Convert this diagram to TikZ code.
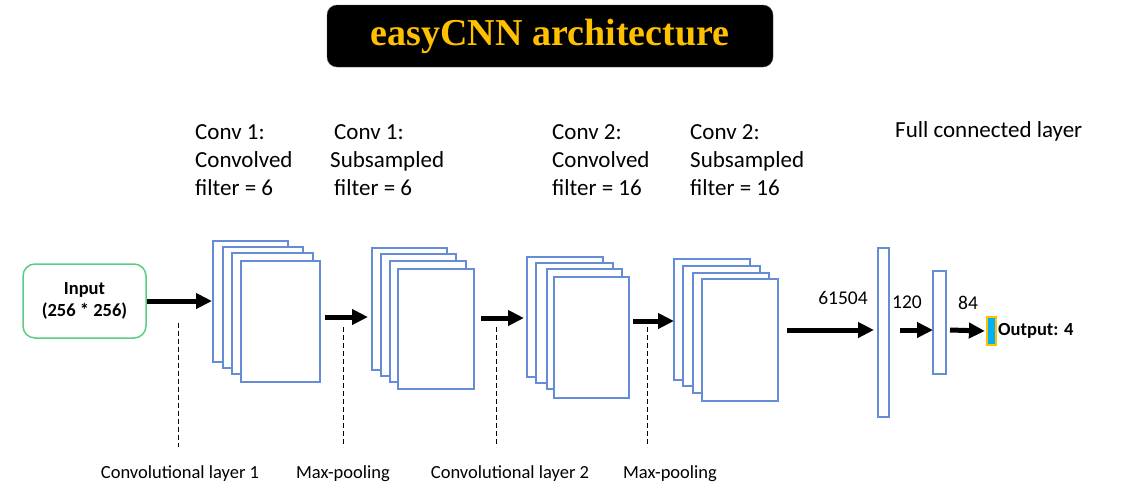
\documentclass[tikz,border=0pt]{standalone}
\usepackage{fontspec}
\setmainfont{Carlito}
\newfontfamily\titlefont{Liberation Serif}
\usetikzlibrary{arrows.meta}
\definecolor{pageblue}{RGB}{100,140,215}
\definecolor{inputgreen}{RGB}{90,205,130}
\definecolor{titlegold}{RGB}{255,192,0}
\definecolor{outcyan}{RGB}{0,176,240}
\tikzset{
  page/.style={draw=pageblue, line width=1.2pt, fill=white},
  bigarrow/.style={line width=5pt, -{Triangle[length=16pt,width=15pt]}},
  guide/.style={line width=0.9pt, dash pattern=on 5pt off 3pt},
  toplabel/.style={anchor=north west, align=left, inner sep=0pt, font=\fontsize{23}{28}\selectfont},
  botlabel/.style={inner sep=0pt, font=\fontsize{18.5}{22}\selectfont},
  numlabel/.style={inner sep=0pt, font=\fontsize{19.5}{23}\selectfont},
}
\begin{document}
\begin{tikzpicture}[x=1pt,y=-1pt]
\useasboundingbox (0,0) rectangle (1131,499);
% Titre
\node[fill=black, draw=gray!60!black, rounded corners=10pt, minimum width=446pt, minimum height=62pt,
  text=titlegold, font=\titlefont\bfseries\fontsize{38}{40}\selectfont] (title) at (550,36) {easyCNN architecture};
% Entree
\node[draw=inputgreen, line width=1.5pt, rounded corners=12pt, minimum width=123pt, minimum height=74pt,
  align=center, font=\bfseries\fontsize{18.5}{22}\selectfont] (input) at (84.5,301) {Input\\(256 * 256)};
% Conv 1 : convolved
\draw[page] (213,241) rectangle (288,362);
\draw[page] (223,247) rectangle (303,368);
\draw[page] (232,253) rectangle (313,374);
\draw[page] (241,261) rectangle (320,382);
% Conv 1 : subsampled
\draw[page] (372,248) rectangle (447,370);
\draw[page] (381,254) rectangle (456,376);
\draw[page] (390,261) rectangle (466,382);
\draw[page] (398,269) rectangle (474,389);
% Conv 2 : convolved
\draw[page] (527,257) rectangle (603,377);
\draw[page] (536,263) rectangle (613,383);
\draw[page] (547,269) rectangle (622,389);
\draw[page] (554,277) rectangle (629,398);
% Conv 2 : subsampled
\draw[page] (674,259) rectangle (750,380);
\draw[page] (683,266) rectangle (760,386);
\draw[page] (693,273) rectangle (769,393);
\draw[page] (702,279) rectangle (778,401);
% Couches completes
\draw[page] (878,248) rectangle (889,417);
\draw[page] (933,271) rectangle (946,374);
\node[fill=outcyan, draw=titlegold, line width=1.2pt, minimum width=9pt, minimum height=28pt, inner sep=0pt] (out) at (991.5,331) {};
% Fleches
\coordinate (c1in) at (212,301);
\coordinate (c1out) at (325,317);
\coordinate (s1in) at (368,317);
\coordinate (s1out) at (481,318);
\coordinate (c2in) at (524,318);
\coordinate (c2out) at (633,321);
\coordinate (s2in) at (674,321);
\coordinate (s2out) at (787,330);
\coordinate (fc1in) at (874,330);
\coordinate (fc1out) at (900,330);
\coordinate (fc2in) at (933,330);
\coordinate (fc2out) at (950,330);
\draw[bigarrow] (input.east |- c1in) -- (c1in);
\draw[bigarrow] (c1out) -- (s1in);
\draw[bigarrow] (s1out) -- (c2in);
\draw[bigarrow] (c2out) -- (s2in);
\draw[bigarrow] (s2out) -- (fc1in);
\draw[bigarrow] (fc1out) -- (fc2in);
\draw[bigarrow] (fc2out) -- ([xshift=-1.5pt]out.west);
% Tailles
\node[numlabel] (n61504) at (843,298) {61504};
\node[numlabel] (n120) at (907,302) {120};
\node[numlabel] (n84) at (968,303) {84};
\node[anchor=west, inner sep=0pt, font=\bfseries\fontsize{18.5}{22}\selectfont] (outtext) at (998,331) {Output: 4};
% Etiquettes du haut
\node[toplabel] (t1) at (195,124) {Conv 1:\\Convolved\\filter = 6};
\node[toplabel] (t2) at (330,124) {\hspace*{4pt}Conv 1:\\Subsampled\\\hspace*{4pt}filter = 6};
\node[toplabel] (t3) at (552,124) {Conv 2:\\Convolved\\filter = 16};
\node[toplabel] (t4) at (690,124) {Conv 2:\\Subsampled\\filter = 16};
\node[anchor=west, inner sep=0pt, font=\fontsize{23}{28}\selectfont] (t5) at (895,131) {Full connected layer};
% Etiquettes du bas
\node[botlabel] (b1) at (180,474) {Convolutional layer 1};
\node[botlabel] (b2) at (343,474) {Max-pooling};
\node[botlabel] (b3) at (510,474) {Convolutional layer 2};
\node[botlabel] (b4) at (670,474) {Max-pooling};
% Lignes de rappel
\draw[guide] (178,323) -- (178,447);
\draw[guide] (343,327) -- (343,447);
\draw[guide] (496,327) -- (496,447);
\draw[guide] (647,327) -- (647,447);
\end{tikzpicture}
\end{document}
